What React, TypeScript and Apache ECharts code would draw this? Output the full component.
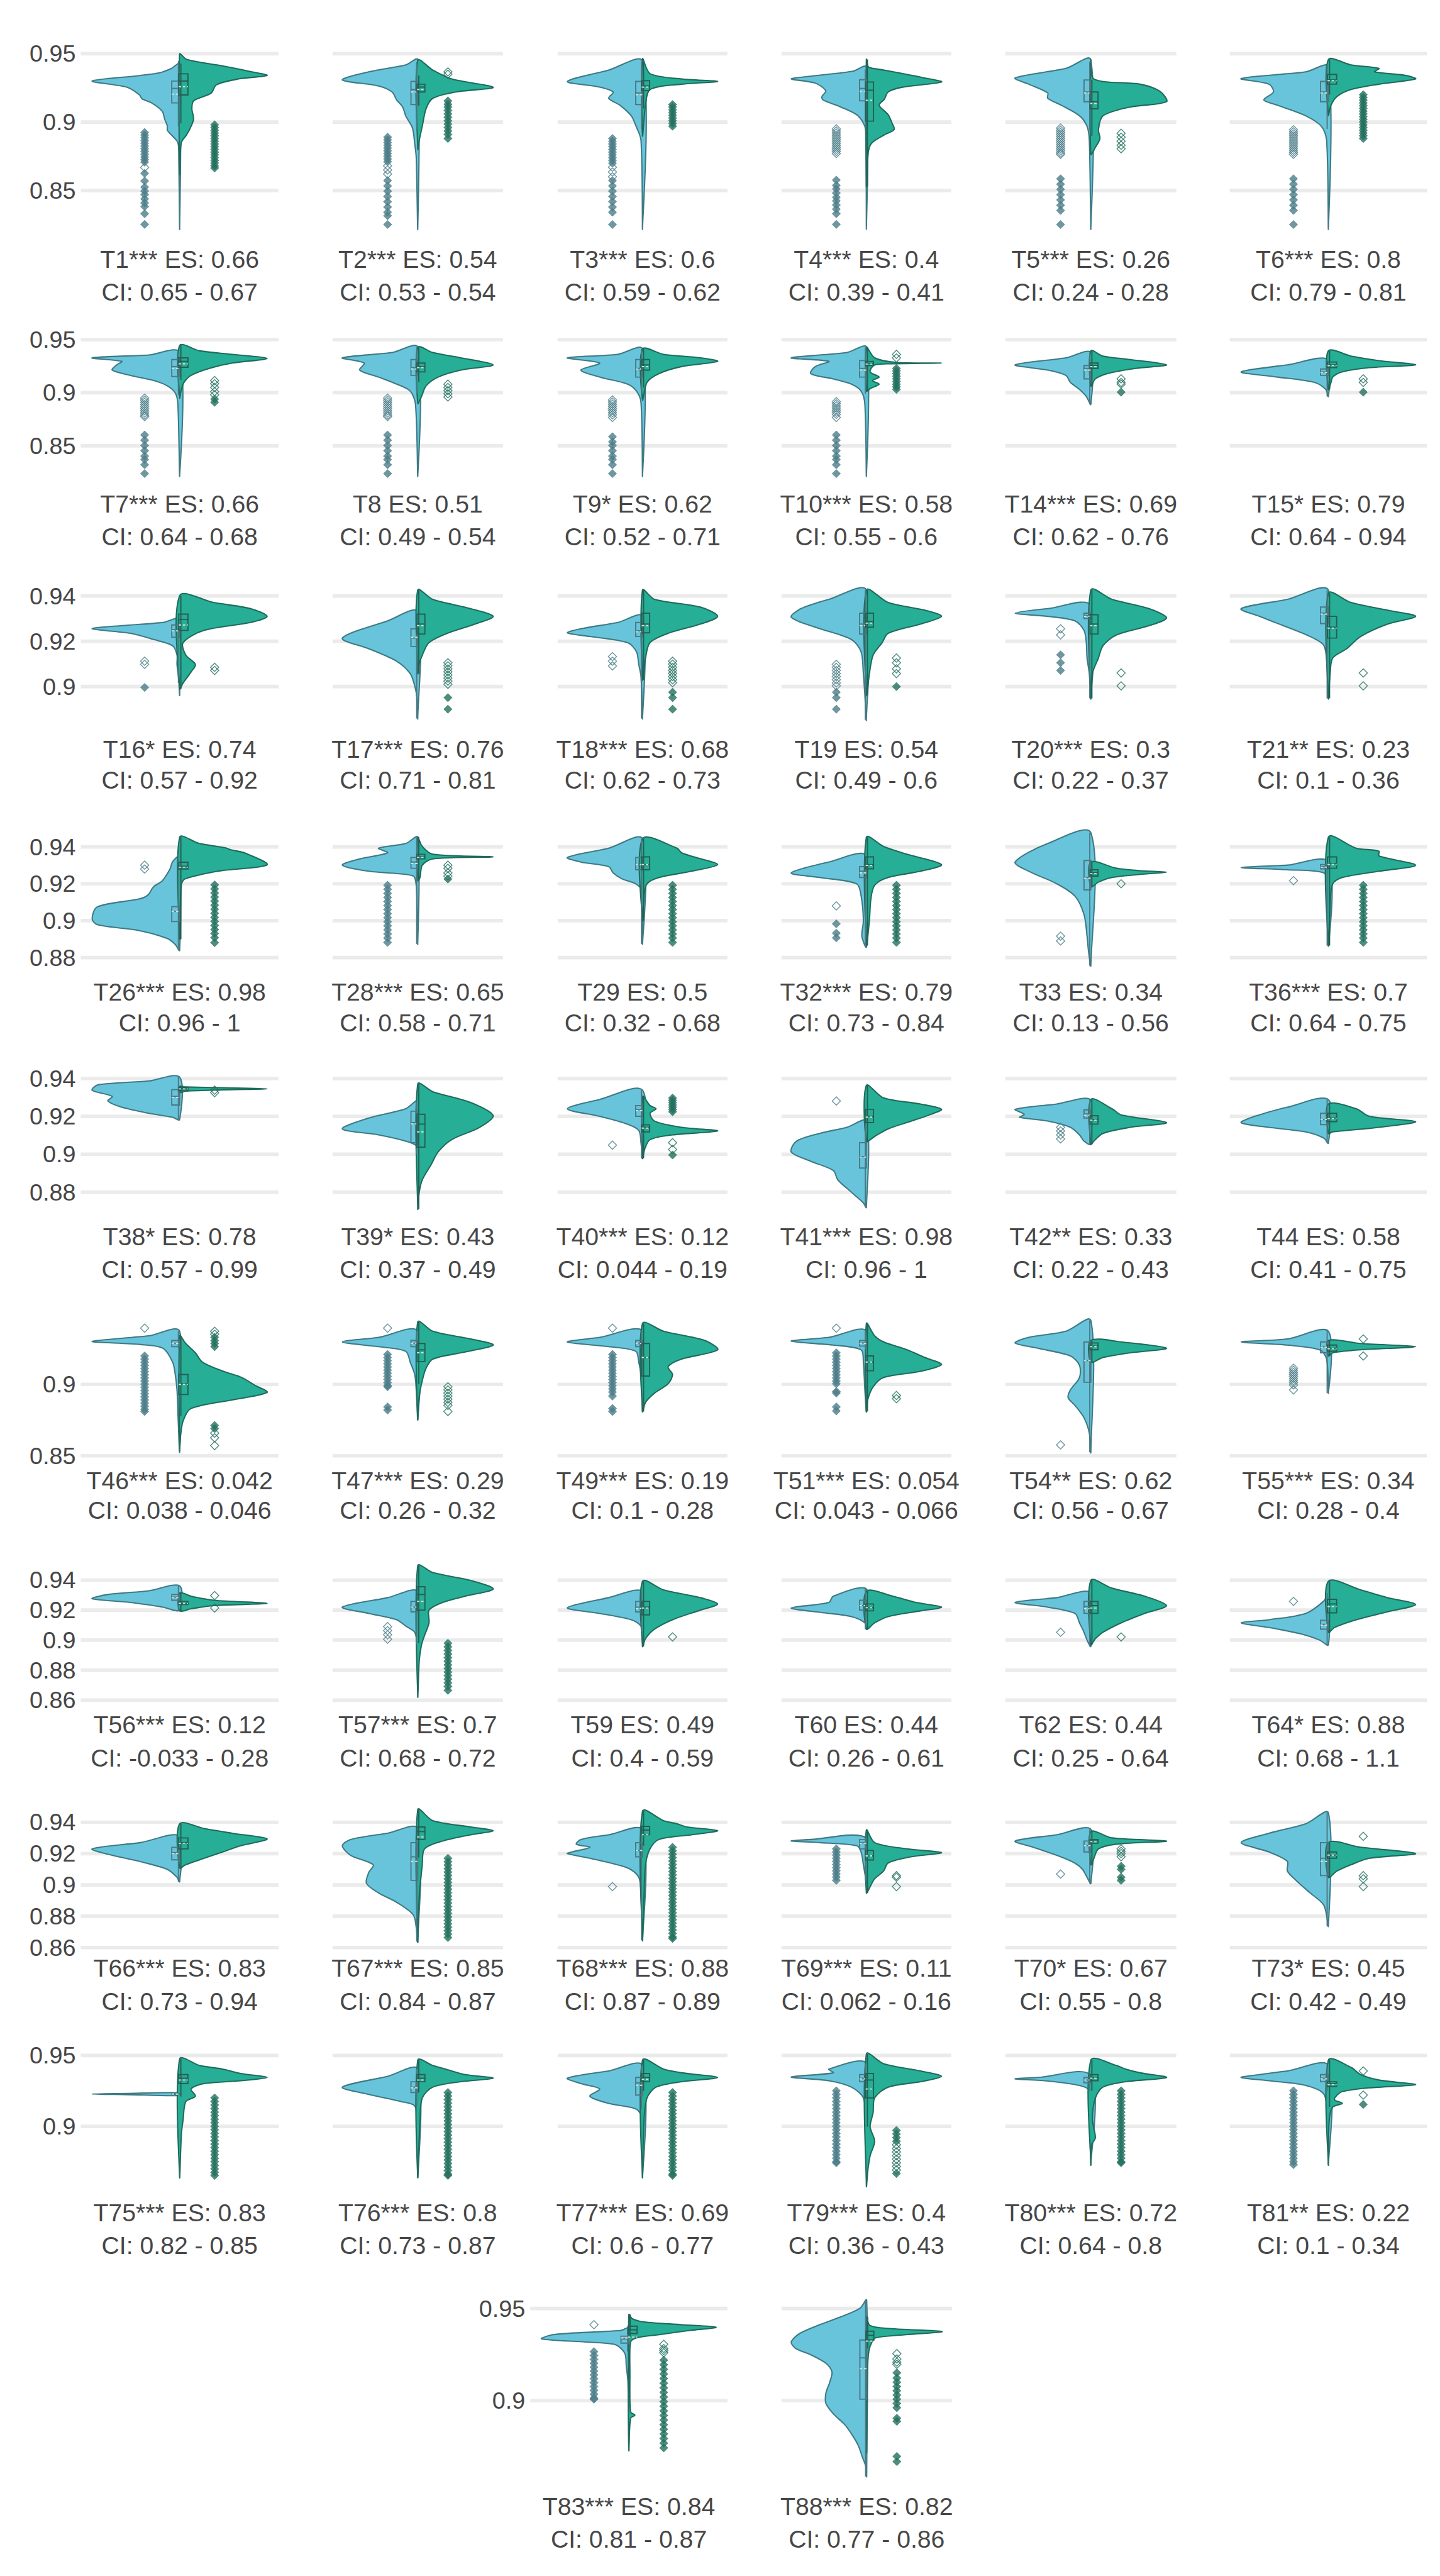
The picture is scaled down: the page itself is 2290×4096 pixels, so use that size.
import React, { useEffect, useRef } from "react";
import * as echarts from "echarts";

// ===================== DATA =====================
// Violin profiles: [value, relative half-width (1 = widest)], listed top to bottom.
// box: [[lo, q1, median, q3, hi, mean] left, [...] right]
// fL/hL: filled / hollow outliers of left group; fR/hR: right group.

const T1 = {
  L: [[0.9425,0],[0.939,0.1],[0.936,0.23],[0.934,0.46],[0.930,1],[0.9255,0.6],[0.920,0.46],[0.917,0.43],[0.914,0.32],[0.908,0.2],[0.902,0.17],[0.897,0.14],[0.894,0.14],[0.889,0.07],[0.885,0.02],[0.876,0.01],[0.822,0]],
  R: [[0.9497,0],[0.9458,0.08],[0.9415,0.45],[0.9372,0.79],[0.9341,1],[0.9315,0.67],[0.9272,0.42],[0.9211,0.36],[0.9155,0.16],[0.9098,0.14],[0.9024,0.16],[0.8968,0.13],[0.8907,0.08],[0.8851,0.02],[0.87,0.005],[0.862,0]],
  box: [[0.897,0.914,0.9246,0.930,0.9445,0.9204],[0.899,0.9198,0.930,0.9353,0.9428,0.9259]],
  fL: [0.8924,0.8905,0.8885,0.8865,0.8845,0.8825,0.8805,0.8785,0.8765,0.8745,0.8725,0.8707,0.8625,0.8569,0.8525,0.8495,0.8469,0.8438,0.8408,0.8382,0.833,0.8252],
  hL: [0.8668],
  fR: [0.898,0.896,0.894,0.892,0.890,0.888,0.886,0.884,0.882,0.880,0.878,0.876,0.874,0.872,0.870,0.868,0.8664],
  hR: [],
};
const T2 = {
  L: [[0.9456,0],[0.9418,0.16],[0.9367,0.65],[0.9308,1],[0.9264,0.52],[0.922,0.34],[0.9162,0.28],[0.911,0.2],[0.9046,0.16],[0.8956,0.07],[0.884,0.04],[0.874,0.02],[0.822,0]],
  R: [[0.9451,0],[0.938,0.2],[0.9315,0.45],[0.9254,1],[0.922,0.5],[0.9174,0.2],[0.9097,0.11],[0.897,0.06],[0.8867,0.02],[0.880,0]],
  box: [[0.895,0.9128,0.9238,0.9297,0.944,0.922],[0.912,0.922,0.9256,0.9277,0.934,0.9238]],
  fL: [0.889,0.887,0.885,0.883,0.881,0.879,0.877,0.875,0.873,0.871,0.8572,0.8533,0.8495,0.8456,0.8418,0.8379,0.8341,0.8315,0.8251],
  hL: [0.868,0.865,0.862],
  fR: [0.9155,0.913,0.911,0.9085,0.906,0.9035,0.901,0.8985,0.896,0.8935,0.891,0.888],
  hR: [0.9367,0.935],
};
const T3 = {
  L: [[0.9444,0],[0.938,0.45],[0.9297,1],[0.9256,0.57],[0.922,0.39],[0.9174,0.45],[0.9123,0.3],[0.9046,0.15],[0.8969,0.085],[0.8867,0.02],[0.822,0]],
  R: [[0.9462,0],[0.9354,0.1],[0.9315,0.52],[0.9297,1],[0.9277,0.52],[0.9238,0.1],[0.9123,0.04],[0.89,0]],
  box: [[0.895,0.9128,0.9213,0.9297,0.944,0.92],[0.91,0.9231,0.9264,0.9303,0.944,0.9256]],
  fL: [0.888,0.886,0.884,0.882,0.880,0.878,0.876,0.874,0.872,0.870,0.8572,0.8533,0.8495,0.8456,0.8418,0.8379,0.8341,0.8251],
  hL: [0.867,0.8635,0.860],
  fR: [0.9128,0.911,0.909,0.907,0.905,0.903,0.901,0.899,0.897],
  hR: [],
};
const T4 = {
  L: [[0.9402,0],[0.9372,0.18],[0.9337,0.71],[0.9315,1],[0.9285,0.68],[0.9228,0.54],[0.9189,0.59],[0.9163,0.58],[0.911,0.34],[0.9054,0.13],[0.8994,0.04],[0.8937,0.01],[0.822,0]],
  R: [[0.9458,0],[0.9402,0.03],[0.9385,0.18],[0.9358,0.45],[0.9319,0.81],[0.9293,1],[0.9254,0.47],[0.922,0.29],[0.9168,0.24],[0.9124,0.17],[0.9054,0.29],[0.8994,0.34],[0.8946,0.37],[0.8907,0.24],[0.8851,0.08],[0.8795,0.03],[0.8648,0.01],[0.853,0]],
  box: [[0.8995,0.9155,0.9246,0.931,0.9385,0.9224],[0.853,0.9007,0.9233,0.9293,0.9458,0.9159]],
  fL: [0.8576,0.8537,0.8511,0.8481,0.845,0.8424,0.8394,0.8364,0.833,0.8252],
  hL: [0.895,0.8935,0.892,0.8905,0.889,0.8875,0.886,0.8845,0.883,0.8815,0.88,0.8785,0.877],
  fR: [],
  hR: [],
};
const T5 = {
  L: [[0.9456,0],[0.9392,0.33],[0.9323,1],[0.9277,0.82],[0.9213,0.57],[0.9174,0.57],[0.9123,0.39],[0.9046,0.15],[0.8969,0.05],[0.8867,0.02],[0.822,0]],
  R: [[0.9451,0],[0.9315,0.04],[0.9277,0.65],[0.9226,0.91],[0.9149,1],[0.911,0.52],[0.9046,0.16],[0.8944,0.1],[0.888,0.12],[0.8815,0.06],[0.8764,0]],
  box: [[0.895,0.9149,0.922,0.9308,0.944,0.9213],[0.89,0.9097,0.9149,0.922,0.931,0.9136]],
  fL: [0.8585,0.8546,0.8508,0.8469,0.8431,0.8392,0.8354,0.8251],
  hL: [0.8956,0.894,0.8925,0.891,0.8895,0.888,0.8865,0.885,0.8835,0.882,0.8805,0.879,0.8775,0.8764],
  fR: [],
  hR: [0.8918,0.889,0.886,0.883,0.8805],
};
const T6 = {
  L: [[0.9405,0],[0.9367,0.26],[0.9318,1],[0.9277,0.68],[0.922,0.63],[0.9162,0.74],[0.9123,0.58],[0.9046,0.26],[0.8969,0.08],[0.8867,0.02],[0.822,0]],
  R: [[0.9456,0],[0.9418,0.26],[0.9392,0.58],[0.9367,0.53],[0.9341,0.89],[0.9315,1],[0.9277,0.58],[0.9238,0.26],[0.9187,0.1],[0.9123,0.03],[0.905,0]],
  box: [[0.895,0.9149,0.922,0.9297,0.9405,0.9213],[0.92,0.9277,0.9308,0.9349,0.9456,0.9303]],
  fL: [0.8585,0.8546,0.8508,0.8469,0.8431,0.8392,0.8354,0.8251],
  hL: [0.8944,0.8929,0.8914,0.8899,0.8884,0.8869,0.8854,0.8839,0.8824,0.8809,0.8794,0.8779,0.8764],
  fR: [0.920,0.918,0.916,0.914,0.912,0.910,0.908,0.906,0.904,0.902,0.900,0.898,0.896,0.894,0.892,0.890,0.888],
  hR: [],
};
const T7 = {
  L: [[0.9378,0],[0.9355,0.35],[0.9328,1],[0.9295,0.66],[0.9262,0.72],[0.9213,0.77],[0.9163,0.56],[0.9114,0.29],[0.9064,0.14],[0.8998,0.05],[0.8891,0.02],[0.8216,0]],
  R: [[0.9444,0],[0.9394,0.23],[0.9361,0.6],[0.9322,1],[0.9279,0.6],[0.9229,0.34],[0.9163,0.13],[0.9097,0.05],[0.9031,0.02],[0.895,0]],
  box: [[0.898,0.9153,0.9246,0.9312,0.9378,0.9229],[0.912,0.9239,0.9295,0.9328,0.9444,0.9272]],
  fL: [0.8602,0.8553,0.8503,0.8454,0.8404,0.8371,0.8322,0.8239],
  hL: [0.8949,0.893,0.891,0.889,0.887,0.885,0.883,0.881,0.879,0.8775],
  fR: [0.894,0.891],
  hR: [0.9114,0.9085,0.905,0.901,0.898],
};
const T8 = {
  L: [[0.9427,0],[0.9378,0.34],[0.9328,1],[0.9279,0.71],[0.9213,0.77],[0.9147,0.52],[0.9081,0.28],[0.9015,0.1],[0.8891,0.03],[0.8216,0]],
  R: [[0.9427,0],[0.9378,0.2],[0.9328,0.57],[0.9262,1],[0.9213,0.57],[0.9147,0.27],[0.9064,0.11],[0.8965,0.05],[0.89,0]],
  box: [[0.899,0.9163,0.9236,0.9312,0.9427,0.9223],[0.91,0.9196,0.9246,0.9279,0.9427,0.9236]],
  fL: [0.8602,0.8553,0.8503,0.8454,0.8404,0.8371,0.8322,0.8239],
  hL: [0.8949,0.893,0.891,0.889,0.887,0.885,0.883,0.881,0.879,0.8775],
  fR: [],
  hR: [0.908,0.905,0.902,0.899,0.896],
};
const T9 = {
  L: [[0.9411,0],[0.9361,0.33],[0.9328,1],[0.9279,0.57],[0.9213,0.82],[0.9147,0.57],[0.9081,0.2],[0.9015,0.08],[0.8907,0.02],[0.8216,0]],
  R: [[0.9411,0],[0.9361,0.28],[0.9328,0.77],[0.9295,1],[0.9246,0.52],[0.918,0.22],[0.9097,0.06],[0.8932,0]],
  box: [[0.899,0.9147,0.9229,0.9312,0.9411,0.9223],[0.905,0.9213,0.9262,0.9312,0.9411,0.9246]],
  fL: [0.8586,0.8537,0.8503,0.8454,0.8404,0.8371,0.8322,0.8239],
  hL: [0.8932,0.8912,0.8892,0.8872,0.8852,0.8832,0.8812,0.8792,0.8767],
  fR: [],
  hR: [],
};
const T10 = {
  L: [[0.9427,0],[0.9378,0.26],[0.9328,1],[0.9295,0.5],[0.9246,0.68],[0.918,0.74],[0.913,0.44],[0.9081,0.2],[0.9015,0.07],[0.8891,0.02],[0.8216,0]],
  R: [[0.9427,0],[0.9328,0.11],[0.9285,0.4],[0.9279,1],[0.9272,0.4],[0.9262,0.11],[0.9196,0.05],[0.9147,0.17],[0.9114,0.08],[0.9081,0.17],[0.9038,0.05],[0.9015,0]],
  box: [[0.899,0.9147,0.9229,0.9302,0.9427,0.9213],[0.9015,0.9256,0.9276,0.9295,0.9427,0.927]],
  fL: [0.8602,0.8553,0.8503,0.8454,0.8404,0.8371,0.8322,0.8239],
  hL: [0.8916,0.8896,0.8876,0.8856,0.8836,0.8816,0.8796,0.8767],
  fR: [0.9229,0.9205,0.918,0.9155,0.913,0.9105,0.908,0.9055,0.9031],
  hR: [0.9361,0.9328],
};
const T14 = {
  L: [[0.9378,0],[0.9328,0.33],[0.9262,1],[0.9213,0.57],[0.9163,0.33],[0.9097,0.27],[0.9031,0.15],[0.8965,0.06],[0.8891,0]],
  R: [[0.9394,0],[0.9345,0.16],[0.9312,0.52],[0.9262,1],[0.9229,0.59],[0.918,0.22],[0.913,0.06],[0.9064,0]],
  box: [[0.8891,0.913,0.9229,0.9256,0.9378,0.9213],[0.9064,0.9229,0.9256,0.9279,0.9394,0.9246]],
  fL: [], hL: [],
  fR: [0.9005],
  hR: [0.913,0.9097,0.9081],
};
const T15 = {
  L: [[0.9312,0],[0.9262,0.47],[0.9196,1],[0.9147,0.58],[0.9097,0.16],[0.9031,0.03],[0.8965,0]],
  R: [[0.9394,0],[0.9345,0.26],[0.9302,0.58],[0.9262,1],[0.9236,0.47],[0.9196,0.16],[0.9147,0.05],[0.9097,0.03],[0.9031,0]],
  box: [[0.8965,0.9163,0.9196,0.9223,0.9312,0.919],[0.9031,0.9236,0.9262,0.9289,0.9394,0.9256]],
  fL: [], hL: [],
  fR: [0.9005],
  hR: [0.913,0.9097],
};
const T16 = {
  L: [[0.9296,0],[0.9283,0.19],[0.9269,0.66],[0.9255,1],[0.9235,0.56],[0.9207,0.29],[0.918,0.08],[0.9139,0.03],[0.9098,0.03],[0.903,0.01],[0.8962,0]],
  R: [[0.9401,0],[0.9371,0.39],[0.9344,0.81],[0.931,1],[0.9283,0.81],[0.9248,0.28],[0.9194,0.04],[0.9139,0.07],[0.9098,0.18],[0.9064,0.13],[0.9016,0.04],[0.8989,0]],
  box: [[0.9016,0.9218,0.9251,0.9272,0.9296,0.9246],[0.8989,0.9248,0.9296,0.932,0.9401,0.9272]],
  fL: [0.8996], hL: [0.9112,0.9098],
  fR: [], hR: [0.9085,0.9071],
};
const T17 = {
  L: [[0.933,0],[0.929,0.4],[0.9214,1],[0.9167,0.65],[0.9112,0.28],[0.9057,0.1],[0.9003,0.04],[0.8948,0.01],[0.8859,0]],
  R: [[0.9426,0],[0.9385,0.2],[0.9344,0.7],[0.931,1],[0.9276,0.76],[0.9235,0.39],[0.9194,0.15],[0.9139,0.06],[0.9098,0.02],[0.9057,0]],
  box: [[0.8859,0.9177,0.9214,0.9255,0.933,0.9217],[0.9057,0.9232,0.9276,0.932,0.9426,0.9269]],
  fL: [], hL: [],
  fR: [0.8951,0.89], hR: [0.9105,0.9092,0.9078,0.9065,0.9051,0.9037,0.9024,0.901],
};
const T18 = {
  L: [[0.931,0],[0.9283,0.33],[0.9255,0.82],[0.9237,1],[0.9221,0.7],[0.9194,0.2],[0.9153,0.08],[0.9098,0.05],[0.9044,0.02],[0.8859,0]],
  R: [[0.9426,0],[0.9385,0.16],[0.9351,0.77],[0.931,1],[0.9276,0.77],[0.9235,0.34],[0.9194,0.1],[0.9126,0.04],[0.903,0]],
  box: [[0.8859,0.9221,0.9246,0.9283,0.931,0.9242],[0.903,0.9237,0.9276,0.9324,0.9426,0.9269]],
  fL: [], hL: [0.9132,0.9112,0.9091],
  fR: [0.8975,0.8951,0.89], hR: [0.9112,0.9099,0.9085,0.9071,0.9058,0.9044,0.903,0.9017],
};
const T19 = {
  L: [[0.9426,0],[0.9385,0.5],[0.9344,0.87],[0.9306,1],[0.9262,0.68],[0.9208,0.2],[0.9153,0.07],[0.9057,0.04],[0.8962,0.02],[0.8853,0]],
  R: [[0.9426,0],[0.9371,0.29],[0.9337,0.78],[0.931,1],[0.9276,0.72],[0.9235,0.29],[0.9194,0.21],[0.9139,0.09],[0.9057,0.04],[0.8962,0]],
  box: [[0.8853,0.9232,0.9276,0.9324,0.9426,0.9269],[0.8962,0.9262,0.9287,0.9324,0.9426,0.928]],
  fL: [0.8975,0.8951,0.89], hL: [0.9098,0.9085,0.9071,0.9057,0.9044,0.903,0.9016,0.9003],
  fR: [0.90], hR: [0.9126,0.9105,0.9078,0.9057],
};
const T20 = {
  L: [[0.9358,0],[0.9344,0.57],[0.9324,1],[0.931,0.57],[0.929,0.21],[0.9248,0.09],[0.9194,0.06],[0.9126,0.05],[0.9057,0.02],[0.8948,0]],
  R: [[0.9426,0],[0.9385,0.28],[0.9344,0.77],[0.9303,1],[0.9269,0.77],[0.9228,0.34],[0.918,0.16],[0.9126,0.1],[0.9057,0.02],[0.8948,0]],
  box: [[0.8948,0.93,0.9314,0.9324,0.9358,0.931],[0.8948,0.9232,0.9276,0.9317,0.9426,0.9269]],
  fL: [0.914,0.9105,0.9071], hL: [0.9255,0.9228],
  fR: [], hR: [0.906,0.9003],
};
const T21 = {
  L: [[0.9426,0],[0.9385,0.47],[0.9344,1],[0.931,0.79],[0.9262,0.47],[0.9221,0.21],[0.918,0.05],[0.9057,0.01],[0.8948,0]],
  R: [[0.9412,0],[0.9371,0.26],[0.9337,0.68],[0.931,1],[0.9276,0.68],[0.9221,0.37],[0.9167,0.21],[0.9126,0.05],[0.9057,0.02],[0.8948,0]],
  box: [[0.8948,0.9278,0.9324,0.9351,0.9426,0.932],[0.8948,0.9214,0.9262,0.931,0.9412,0.9258]],
  fL: [], hL: [],
  fR: [], hR: [0.906,0.9003],
};
const T26 = {
  L: [[0.9349,0],[0.932,0.08],[0.928,0.11],[0.9215,0.2],[0.9183,0.3],[0.914,0.36],[0.9118,0.46],[0.9075,0.94],[0.9011,1],[0.8978,0.94],[0.8946,0.46],[0.8903,0.14],[0.8871,0.05],[0.8839,0]],
  R: [[0.9452,0],[0.9419,0.22],[0.9395,0.52],[0.9385,0.58],[0.9366,0.75],[0.9303,1],[0.9269,0.45],[0.9226,0.06],[0.9194,0.02],[0.90,0.005],[0.89,0]],
  box: [[0.8839,0.8995,0.905,0.9076,0.9349,0.905],[0.89,0.928,0.9295,0.9317,0.9452,0.929]],
  fL: [], hL: [0.9301,0.928],
  fR: [0.9194,0.9172,0.915,0.9128,0.9106,0.9084,0.9062,0.904,0.9018,0.8996,0.8974,0.8952,0.893,0.8908,0.8881], hR: [],
};
const T28 = {
  L: [[0.9452,0],[0.9418,0.16],[0.9393,0.52],[0.9368,0.4],[0.9335,0.77],[0.9301,1],[0.9268,0.65],[0.9251,0.16],[0.9234,0.04],[0.9083,0.01],[0.8874,0]],
  R: [[0.9452,0],[0.9402,0.06],[0.936,0.2],[0.9346,1],[0.9335,0.2],[0.9301,0.06],[0.9234,0.03],[0.9217,0]],
  box: [[0.8874,0.9284,0.9318,0.9343,0.9452,0.931],[0.9217,0.9335,0.9346,0.936,0.9452,0.9343]],
  fL: [0.9192,0.917,0.9148,0.9126,0.9104,0.9082,0.906,0.9038,0.9016,0.8994,0.8972,0.895,0.8928,0.8906,0.8882], hL: [],
  fR: [0.9226], hR: [0.9301,0.9284,0.9259,0.9242],
};
const T29 = {
  L: [[0.9444,0],[0.9393,0.45],[0.9343,1],[0.9318,0.82],[0.9293,0.45],[0.9259,0.39],[0.9226,0.27],[0.92,0.09],[0.9167,0.02],[0.8874,0]],
  R: [[0.9444,0],[0.9393,0.46],[0.9368,0.52],[0.9343,0.71],[0.9304,1],[0.9268,0.65],[0.9234,0.22],[0.92,0.06],[0.9134,0.02],[0.90,0]],
  box: [[0.8874,0.9276,0.9304,0.9343,0.9444,0.9304],[0.90,0.9276,0.9304,0.9346,0.9444,0.9304]],
  fL: [], hL: [],
  fR: [0.9192,0.917,0.9148,0.9126,0.9104,0.9082,0.906,0.9038,0.9016,0.8994,0.8972,0.895,0.8928,0.8906,0.8882], hR: [],
};
const T32 = {
  L: [[0.9351,0],[0.9318,0.5],[0.9259,1],[0.9234,0.62],[0.92,0.13],[0.9134,0.07],[0.90,0.04],[0.8916,0.06],[0.8857,0]],
  R: [[0.9452,0],[0.9402,0.23],[0.936,0.54],[0.9304,1],[0.9268,0.72],[0.9234,0.29],[0.9192,0.11],[0.9117,0.06],[0.90,0.04],[0.8865,0]],
  box: [[0.8857,0.9234,0.9268,0.9293,0.9351,0.9259],[0.8865,0.9281,0.9304,0.9346,0.9452,0.93]],
  fL: [0.8983,0.8932,0.8907], hL: [0.908],
  fR: [0.9192,0.917,0.9148,0.9126,0.9104,0.9082,0.906,0.9038,0.9016,0.8994,0.8972,0.895,0.8928,0.8906,0.8882], hR: [],
};
const T33 = {
  L: [[0.9477,0],[0.9418,0.57],[0.9318,1],[0.9268,0.82],[0.92,0.45],[0.9133,0.21],[0.9033,0.09],[0.8916,0.05],[0.8832,0.03],[0.8756,0]],
  R: [[0.9318,0],[0.9284,0.34],[0.9271,0.65],[0.9263,1],[0.9251,0.65],[0.9234,0.28],[0.9209,0.1],[0.9184,0]],
  box: [[0.8756,0.9167,0.9234,0.9326,0.9477,0.923],[0.9184,0.9242,0.9259,0.9276,0.9318,0.9255]],
  fL: [], hL: [0.8916,0.889],
  fR: [], hR: [0.92],
};
const T36 = {
  L: [[0.9318,0],[0.9301,0.47],[0.9288,1],[0.9276,0.47],[0.9259,0.05],[0.92,0.02],[0.8865,0]],
  R: [[0.9452,0],[0.9393,0.32],[0.9377,0.58],[0.9351,0.58],[0.9301,1],[0.9268,0.58],[0.9234,0.16],[0.92,0.05],[0.9083,0.02],[0.8865,0]],
  box: [[0.8865,0.9281,0.9293,0.9304,0.9318,0.929],[0.8865,0.9284,0.9309,0.9346,0.9452,0.9305]],
  fL: [], hL: [0.9217],
  fR: [0.9192,0.917,0.9148,0.9126,0.9104,0.9082,0.906,0.9038,0.9016,0.8994,0.8972,0.895,0.8928,0.8906,0.8882], hR: [],
};
const T38 = {
  L: [[0.9407,0],[0.9387,0.35],[0.9367,0.93],[0.9338,1],[0.9305,0.77],[0.9281,0.82],[0.9248,0.66],[0.9216,0.35],[0.9195,0.08],[0.9183,0]],
  R: [[0.9358,0],[0.9355,0.07],[0.9351,0.5],[0.9345,1],[0.934,0.5],[0.9333,0.07],[0.9325,0]],
  box: [[0.9183,0.926,0.9305,0.9341,0.9407,0.93],[0.9325,0.9335,0.9345,0.9351,0.9358,0.9345]],
  fL: [], hL: [],
  fR: [], hR: [0.9338,0.9325],
};
const T39 = {
  L: [[0.9281,0],[0.924,0.16],[0.9191,0.65],[0.9134,1],[0.9102,0.52],[0.9069,0.16],[0.9045,0.02],[0.90,0]],
  R: [[0.9371,0],[0.933,0.2],[0.9273,0.7],[0.9204,1],[0.9142,0.82],[0.9077,0.45],[0.9012,0.27],[0.8947,0.18],[0.8865,0.06],[0.88,0.02],[0.8711,0]],
  box: [[0.90,0.9061,0.9167,0.9227,0.9281,0.916],[0.8711,0.9037,0.9159,0.9211,0.9371,0.9118]],
  fL: [], hL: [], fR: [], hR: [],
};
const T40 = {
  L: [[0.9338,0],[0.9289,0.57],[0.924,1],[0.92,0.57],[0.9159,0.2],[0.9126,0.05],[0.906,0.02],[0.8979,0]],
  R: [[0.9305,0],[0.9257,0.1],[0.924,0.18],[0.9216,0.1],[0.9175,0.16],[0.9142,0.52],[0.9123,1],[0.9102,0.4],[0.9077,0.1],[0.9028,0.03],[0.8979,0]],
  box: [[0.8979,0.92,0.9235,0.9257,0.9338,0.923],[0.8979,0.9118,0.9142,0.9155,0.9305,0.9138]],
  fL: [], hL: [0.9048],
  fR: [0.9297,0.9285,0.9272,0.926,0.9248,0.9236,0.9224,0.8996], hR: [0.9061,0.9025],
};
const T41 = {
  L: [[0.9175,0],[0.9142,0.26],[0.911,0.62],[0.9069,0.93],[0.9012,1],[0.8963,0.74],[0.8914,0.44],[0.8865,0.38],[0.88,0.2],[0.8743,0.04],[0.8719,0]],
  R: [[0.9363,0],[0.9297,0.23],[0.9265,0.72],[0.9237,1],[0.9208,0.84],[0.9175,0.6],[0.9134,0.29],[0.9094,0.11],[0.9069,0]],
  box: [[0.8719,0.8927,0.8988,0.9061,0.9175,0.8985],[0.9069,0.9167,0.92,0.9237,0.9363,0.9196]],
  fL: [], hL: [0.9281], fR: [], hR: [],
};
const T42 = {
  L: [[0.9286,0],[0.9265,0.45],[0.9237,1],[0.9211,0.88],[0.9195,0.94],[0.9175,0.57],[0.9142,0.27],[0.9102,0.15],[0.9069,0.09],[0.9053,0]],
  R: [[0.9289,0],[0.924,0.28],[0.9208,0.4],[0.9167,1],[0.9142,0.52],[0.911,0.16],[0.9069,0.04],[0.9053,0]],
  box: [[0.9053,0.9191,0.9213,0.9234,0.9286,0.9205],[0.9053,0.9159,0.9183,0.9204,0.9289,0.918]],
  fL: [], hL: [0.9142,0.9123,0.9102,0.9081], fR: [], hR: [],
};
const T44 = {
  L: [[0.9289,0],[0.9248,0.47],[0.9208,0.79],[0.9167,1],[0.9142,0.68],[0.9118,0.26],[0.9085,0.05],[0.9058,0]],
  R: [[0.9265,0],[0.924,0.32],[0.92,0.47],[0.9172,1],[0.9142,0.58],[0.9118,0.05],[0.911,0]],
  box: [[0.9058,0.9156,0.9183,0.9216,0.9289,0.9183],[0.911,0.9172,0.9191,0.9216,0.9265,0.9188]],
  fL: [], hL: [], fR: [], hR: [],
};
const T46 = {
  L: [[0.9372,0],[0.934,0.35],[0.9301,1],[0.9279,0.45],[0.9253,0.19],[0.9156,0.08],[0.9069,0.05],[0.8961,0.03],[0.881,0.02],[0.8528,0]],
  R: [[0.934,0],[0.9286,0.07],[0.9221,0.18],[0.9156,0.26],[0.9091,0.5],[0.9048,0.71],[0.8994,0.86],[0.8944,1],[0.8896,0.65],[0.8831,0.13],[0.8745,0.04],[0.8636,0.01],[0.8539,0]],
  box: [[0.9253,0.9264,0.9286,0.9307,0.9372,0.9286],[0.8776,0.8929,0.9004,0.9069,0.934,0.9]],
  fL: [0.9199,0.9177,0.9155,0.9133,0.9111,0.9089,0.9067,0.9045,0.9023,0.9001,0.8979,0.8957,0.8935,0.8913,0.8891,0.8869,0.8847,0.8825,0.881],
  hL: [0.9394],
  fR: [0.933,0.9307,0.9286,0.9264,0.8712,0.869],
  hR: [0.9372,0.9351,0.8658,0.8626,0.8571],
};
const T47 = {
  L: [[0.9372,0],[0.9329,0.52],[0.9297,1],[0.9264,0.52],[0.9232,0.16],[0.9156,0.1],[0.9069,0.04],[0.8961,0.02],[0.8755,0]],
  R: [[0.9437,0],[0.9372,0.2],[0.9318,0.7],[0.9275,1],[0.9221,0.57],[0.9177,0.2],[0.9113,0.11],[0.9026,0.06],[0.8918,0.02],[0.8755,0]],
  box: [[0.9232,0.9264,0.9286,0.9307,0.9372,0.9286],[0.9,0.916,0.9242,0.9286,0.9437,0.9221]],
  fL: [0.921,0.9188,0.9166,0.9144,0.9122,0.91,0.9078,0.9056,0.9034,0.9012,0.8992,0.8983,0.8842,0.882],
  hL: [0.9394],
  fR: [],
  hR: [0.8983,0.8961,0.8939,0.8918,0.8896,0.8874,0.8853,0.881],
};
const T49 = {
  L: [[0.9372,0],[0.9329,0.57],[0.9297,1],[0.9264,0.45],[0.9232,0.09],[0.9156,0.05],[0.9069,0.02],[0.881,0]],
  R: [[0.9426,0],[0.9372,0.28],[0.9307,0.83],[0.9242,1],[0.9177,0.52],[0.9123,0.34],[0.9069,0.4],[0.9004,0.34],[0.8939,0.16],[0.8874,0.04],[0.881,0]],
  box: [[0.9232,0.9264,0.9286,0.9307,0.9372,0.9286],[0.881,0.9058,0.9188,0.9286,0.9426,0.9188]],
  fL: [0.921,0.9188,0.9166,0.9144,0.9122,0.91,0.9078,0.9056,0.9034,0.9012,0.899,0.8968,0.8946,0.8918,0.8831,0.881],
  hL: [0.9394],
  fR: [], hR: [],
};
const T51 = {
  L: [[0.9372,0],[0.9329,0.5],[0.9303,1],[0.9275,0.44],[0.9242,0.07],[0.9156,0.04],[0.8961,0.02],[0.881,0]],
  R: [[0.9426,0],[0.934,0.11],[0.9297,0.23],[0.9242,0.54],[0.9188,0.78],[0.9139,1],[0.9091,0.72],[0.9048,0.23],[0.8983,0.09],[0.8896,0.02],[0.881,0]],
  box: [[0.9242,0.9268,0.929,0.9307,0.9372,0.9286],[0.881,0.9095,0.9156,0.9199,0.9426,0.9156]],
  fL: [0.9221,0.9199,0.9177,0.9155,0.9133,0.9111,0.9089,0.9067,0.9045,0.9023,0.9004,0.895,0.8939,0.8842,0.8814],
  hL: [0.9394],
  fR: [], hR: [0.8922,0.89],
};
const T54 = {
  L: [[0.9448,0],[0.9372,0.33],[0.9329,0.82],[0.929,1],[0.9253,0.7],[0.9199,0.27],[0.9134,0.15],[0.9048,0.15],[0.8961,0.27],[0.8907,0.3],[0.8853,0.21],[0.8766,0.09],[0.8658,0.02],[0.8524,0]],
  R: [[0.9307,0],[0.9297,0.4],[0.9253,1],[0.9221,0.52],[0.9188,0.16],[0.9156,0]],
  box: [[0.8524,0.9015,0.9167,0.9297,0.9448,0.9167],[0.9156,0.9242,0.9268,0.929,0.9307,0.9264]],
  fL: [], hL: [0.8576], fR: [], hR: [],
};
const T55 = {
  L: [[0.9372,0],[0.9318,0.47],[0.9297,1],[0.9275,0.47],[0.9242,0.1],[0.9177,0.02],[0.8939,0]],
  R: [[0.9307,0],[0.9286,0.37],[0.9264,1],[0.9242,0.37],[0.9221,0.05],[0.9199,0]],
  box: [[0.8939,0.9221,0.9264,0.9297,0.9372,0.926],[0.9199,0.9232,0.9253,0.9275,0.9307,0.925]],
  fL: [], hL: [0.9113,0.9099,0.9084,0.907,0.9056,0.9041,0.9026,0.9012,0.8996,0.8961],
  fR: [], hR: [0.9318,0.9199],
};
const T56 = {
  L: [[0.9362,0],[0.9329,0.35],[0.9304,0.82],[0.9276,1],[0.9251,0.56],[0.922,0.19],[0.92,0]],
  R: [[0.9314,0],[0.9293,0.13],[0.9266,0.39],[0.9245,1],[0.923,0.39],[0.9209,0.13],[0.9195,0]],
  box: [[0.92,0.9266,0.9287,0.9304,0.9362,0.9283],[0.9195,0.9237,0.9245,0.9258,0.9314,0.9245]],
  fL: [], hL: [], fR: [], hR: [0.9297,0.9214],
};
const T57 = {
  L: [[0.9325,0],[0.9283,0.4],[0.922,1],[0.9178,0.65],[0.9136,0.28],[0.9094,0.16],[0.9052,0.04],[0.8969,0]],
  R: [[0.9496,0],[0.945,0.2],[0.9398,0.7],[0.9341,1],[0.9293,0.63],[0.9251,0.33],[0.92,0.15],[0.9115,0.15],[0.9031,0.09],[0.8969,0.05],[0.8864,0.02],[0.8623,0]],
  box: [[0.8969,0.9188,0.922,0.9258,0.9325,0.922],[0.8983,0.92,0.9304,0.9356,0.9496,0.9258]],
  fL: [], hL: [0.909,0.9063,0.9036,0.9006],
  fR: [0.8979,0.8955,0.8931,0.8907,0.8883,0.8859,0.8835,0.8811,0.8787,0.8763,0.8739,0.8715,0.8691,0.8665], hR: [],
};
const T59 = {
  L: [[0.9325,0],[0.9283,0.45],[0.9216,1],[0.9178,0.57],[0.9136,0.15],[0.9094,0.02],[0.9052,0]],
  R: [[0.9392,0],[0.9335,0.28],[0.9283,0.77],[0.9241,1],[0.92,0.77],[0.9136,0.4],[0.9073,0.16],[0.901,0.04],[0.8958,0]],
  box: [[0.9052,0.9188,0.922,0.9258,0.9325,0.921],[0.8958,0.9168,0.922,0.9258,0.9392,0.9214]],
  fL: [], hL: [], fR: [], hR: [0.9021],
};
const T60 = {
  L: [[0.9341,0],[0.9293,0.44],[0.9251,0.5],[0.9214,1],[0.9182,0.56],[0.9157,0.2],[0.9115,0.02],[0.9073,0]],
  R: [[0.9325,0],[0.9293,0.35],[0.9251,0.66],[0.922,1],[0.9195,0.72],[0.9157,0.29],[0.9115,0.11],[0.9073,0]],
  box: [[0.9073,0.92,0.923,0.9266,0.9341,0.923],[0.9073,0.9195,0.9216,0.9241,0.9325,0.9216]],
  fL: [], hL: [], fR: [], hR: [],
};
const T62 = {
  L: [[0.9314,0],[0.9283,0.45],[0.9251,1],[0.922,0.57],[0.9178,0.21],[0.9115,0.15],[0.9052,0.09],[0.90,0.05],[0.8958,0]],
  R: [[0.9398,0],[0.9346,0.28],[0.9293,0.71],[0.923,1],[0.9178,0.71],[0.9115,0.4],[0.9052,0.16],[0.901,0.06],[0.8969,0]],
  box: [[0.8958,0.9178,0.9224,0.9258,0.9314,0.921],[0.8969,0.9178,0.923,0.9258,0.9398,0.9214]],
  fL: [], hL: [0.9052], fR: [], hR: [0.9021],
};
const T64 = {
  L: [[0.9314,0],[0.9262,0.05],[0.9178,0.26],[0.9136,0.68],[0.9115,1],[0.9084,0.68],[0.9042,0.32],[0.90,0.1],[0.8969,0]],
  R: [[0.9392,0],[0.9335,0.37],[0.9283,0.68],[0.9237,1],[0.9189,0.68],[0.9136,0.32],[0.9084,0.07],[0.9052,0]],
  box: [[0.8969,0.9073,0.9105,0.9132,0.9314,0.91],[0.9052,0.9182,0.9241,0.9272,0.9392,0.9224]],
  fL: [], hL: [0.9258], fR: [], hR: [],
};
const T66 = {
  L: [[0.931,0],[0.927,0.45],[0.923,1],[0.9189,0.77],[0.9149,0.45],[0.9099,0.14],[0.9049,0.03],[0.902,0]],
  R: [[0.939,0],[0.936,0.28],[0.933,0.6],[0.9294,1],[0.925,0.7],[0.921,0.49],[0.917,0.28],[0.9129,0.07],[0.9109,0]],
  box: [[0.902,0.916,0.9206,0.924,0.931,0.92],[0.9109,0.923,0.927,0.93,0.939,0.9266]],
  fL: [], hL: [], fR: [], hR: [],
};
const T67 = {
  L: [[0.936,0],[0.933,0.4],[0.929,0.89],[0.925,1],[0.9189,0.89],[0.9129,0.59],[0.9079,0.65],[0.901,0.68],[0.8949,0.52],[0.8889,0.28],[0.8809,0.06],[0.8728,0.02],[0.8638,0]],
  R: [[0.948,0],[0.941,0.2],[0.937,0.7],[0.9346,1],[0.932,0.7],[0.928,0.33],[0.923,0.09],[0.9129,0.06],[0.8929,0.02],[0.8638,0]],
  box: [[0.8638,0.9029,0.9179,0.927,0.936,0.915],[0.9175,0.929,0.934,0.937,0.948,0.9306]],
  fL: [], hL: [],
  fR: [0.917,0.9148,0.9126,0.9104,0.9082,0.906,0.9038,0.9016,0.8994,0.8972,0.895,0.8928,0.8906,0.8884,0.8862,0.884,0.8818,0.8796,0.8774,0.8752,0.873,0.8708,0.8686,0.8664],
  hR: [],
};
const T68 = {
  L: [[0.935,0],[0.932,0.45],[0.929,0.82],[0.926,0.88],[0.924,0.7],[0.921,0.94],[0.92,1],[0.917,0.7],[0.9109,0.2],[0.9049,0.05],[0.8929,0.02],[0.8648,0]],
  R: [[0.947,0],[0.941,0.28],[0.939,0.46],[0.937,0.59],[0.9346,1],[0.932,0.65],[0.929,0.22],[0.923,0.1],[0.9129,0.04],[0.8929,0.02],[0.8648,0]],
  box: [[0.8648,0.9179,0.922,0.927,0.935,0.922],[0.925,0.932,0.935,0.9374,0.947,0.932]],
  fL: [], hL: [0.8989],
  fR: [0.924,0.9218,0.9196,0.9174,0.9152,0.913,0.9108,0.9086,0.9064,0.9042,0.902,0.8998,0.8976,0.8954,0.8932,0.891,0.8888,0.8866,0.8844,0.8822,0.88,0.8778,0.8756,0.8734,0.8712,0.869,0.8668,0.8658],
  hR: [],
};
const T69 = {
  L: [[0.93,0],[0.929,0.74],[0.928,1],[0.927,0.62],[0.925,0.13],[0.921,0.07],[0.9129,0.04],[0.9029,0]],
  R: [[0.935,0],[0.927,0.11],[0.923,0.54],[0.9206,1],[0.918,0.6],[0.914,0.29],[0.9089,0.23],[0.9039,0.11],[0.8989,0.05],[0.8949,0]],
  box: [[0.9029,0.923,0.927,0.929,0.93,0.9266],[0.8949,0.9159,0.9185,0.922,0.935,0.9185]],
  fL: [0.923,0.921,0.919,0.917,0.915,0.913,0.911,0.909,0.907,0.905,0.9029], hL: [],
  fR: [], hR: [0.9059,0.9049,0.8989],
};
const T70 = {
  L: [[0.9354,0],[0.932,0.45],[0.928,1],[0.924,0.76],[0.9189,0.45],[0.9139,0.21],[0.9099,0.11],[0.9049,0.05],[0.9009,0]],
  R: [[0.934,0],[0.93,0.28],[0.928,1],[0.926,0.34],[0.923,0.1],[0.9169,0.04],[0.9129,0]],
  box: [[0.9009,0.921,0.925,0.928,0.9354,0.925],[0.9129,0.9266,0.928,0.929,0.934,0.9276]],
  fL: [], hL: [0.9069],
  fR: [0.9119,0.9099,0.9049,0.9029], hR: [0.923,0.9214,0.92,0.918],
};
const T73 = {
  L: [[0.946,0],[0.939,0.26],[0.933,0.68],[0.927,1],[0.921,0.68],[0.915,0.47],[0.9089,0.47],[0.9029,0.37],[0.8949,0.21],[0.8869,0.05],[0.8738,0]],
  R: [[0.927,0],[0.924,0.37],[0.92,1],[0.917,0.47],[0.9129,0.26],[0.9089,0.1],[0.9049,0]],
  box: [[0.8738,0.9059,0.917,0.927,0.946,0.915],[0.9049,0.917,0.919,0.921,0.927,0.919]],
  fL: [], hL: [], fR: [], hR: [0.931,0.9059,0.9039,0.8989],
};
const T75 = {
  L: [[0.9238,0],[0.9232,0.6],[0.9228,1],[0.9224,0.6],[0.9218,0]],
  R: [[0.9475,0],[0.9429,0.23],[0.9404,0.49],[0.9373,0.7],[0.9345,1],[0.9322,0.7],[0.9302,0.28],[0.9264,0.13],[0.9213,0.18],[0.9175,0.07],[0.9048,0.04],[0.8947,0.02],[0.8642,0]],
  box: [[0.9218,0.9226,0.9228,0.923,0.9238,0.9228],[0.921,0.9302,0.934,0.9365,0.9475,0.9327]],
  fL: [], hL: [],
  fR: [0.9201,0.9176,0.9151,0.9126,0.9101,0.9076,0.9051,0.9026,0.9001,0.8976,0.8951,0.8926,0.8901,0.8876,0.8851,0.8826,0.8801,0.8776,0.8751,0.8726,0.8701,0.8676,0.8655],
  hR: [],
};
const T76 = {
  L: [[0.9404,0],[0.9353,0.4],[0.9277,1],[0.9226,0.65],[0.9175,0.22],[0.9145,0.04],[0.9048,0.01],[0.8642,0]],
  R: [[0.9467,0],[0.9429,0.2],[0.9391,0.45],[0.9365,0.63],[0.934,1],[0.9315,0.57],[0.9277,0.2],[0.9201,0.06],[0.9048,0.03],[0.8642,0]],
  box: [[0.9145,0.9239,0.9277,0.9315,0.9404,0.9272],[0.9239,0.9315,0.934,0.9365,0.9467,0.9327]],
  fL: [], hL: [],
  fR: [0.9239,0.9214,0.9189,0.9164,0.9139,0.9114,0.9089,0.9064,0.9039,0.9014,0.8989,0.8964,0.8939,0.8914,0.8889,0.8864,0.8839,0.8814,0.8789,0.8764,0.8739,0.8714,0.8689,0.8664,0.8655],
  hR: [],
};
const T77 = {
  L: [[0.9429,0],[0.9391,0.45],[0.934,1],[0.9302,0.82],[0.9264,0.57],[0.9213,0.7],[0.9162,0.45],[0.9124,0.09],[0.9074,0.02],[0.8642,0]],
  R: [[0.9467,0],[0.9404,0.28],[0.9378,0.52],[0.9345,1],[0.9315,0.52],[0.9277,0.18],[0.9201,0.06],[0.9048,0.02],[0.8642,0]],
  box: [[0.9124,0.9221,0.9307,0.9345,0.9429,0.929],[0.925,0.9315,0.9345,0.9373,0.9467,0.9332]],
  fL: [], hL: [],
  fR: [0.9239,0.9214,0.9189,0.9164,0.9139,0.9114,0.9089,0.9064,0.9039,0.9014,0.8989,0.8964,0.8939,0.8914,0.8889,0.8864,0.8839,0.8814,0.8789,0.8764,0.8739,0.8714,0.8689,0.8664,0.8655],
  hR: [],
};
const T79 = {
  L: [[0.9442,0],[0.9404,0.5],[0.9378,0.44],[0.9348,1],[0.9322,0.5],[0.9277,0.2],[0.9201,0.04],[0.9048,0.01],[0.8744,0]],
  R: [[0.951,0],[0.9442,0.23],[0.9391,0.72],[0.9353,1],[0.9315,0.72],[0.9277,0.29],[0.9201,0.11],[0.9099,0.09],[0.8997,0.05],[0.8896,0.11],[0.8794,0.05],[0.8693,0.02],[0.8579,0]],
  box: [[0.9251,0.9315,0.934,0.9365,0.9442,0.9335],[0.8997,0.9201,0.9327,0.9373,0.951,0.9264]],
  fL: [0.9251,0.9226,0.9201,0.9176,0.9151,0.9126,0.9101,0.9076,0.9051,0.9026,0.9001,0.8976,0.8951,0.8926,0.8901,0.8876,0.8851,0.8826,0.8801,0.8776,0.8751,0.8744],
  hL: [],
  fR: [0.8972,0.8947,0.8921,0.8896,0.8668],
  hR: [0.8871,0.8845,0.882,0.8794,0.8769,0.8744,0.8718,0.8693],
};
const T80 = {
  L: [[0.9358,0],[0.9345,0.7],[0.9335,1],[0.932,0.57],[0.9289,0.15],[0.9251,0.02],[0.8921,0.01],[0.8731,0]],
  R: [[0.9467,0],[0.9429,0.34],[0.9404,0.46],[0.9378,0.65],[0.9345,1],[0.9315,0.46],[0.9277,0.16],[0.9201,0.06],[0.9048,0.02],[0.8921,0.06],[0.8871,0.01],[0.8731,0]],
  box: [[0.925,0.9307,0.9327,0.9345,0.9358,0.9327],[0.925,0.9322,0.9345,0.9365,0.9467,0.934]],
  fL: [], hL: [],
  fR: [0.9251,0.9226,0.9201,0.9176,0.9151,0.9126,0.9101,0.9076,0.9051,0.9026,0.9001,0.8976,0.8951,0.8926,0.8901,0.8876,0.8851,0.8826,0.8801,0.8776,0.8751,0.8744],
  hR: [],
};
const T81 = {
  L: [[0.9429,0],[0.9391,0.47],[0.9365,0.79],[0.9345,1],[0.9322,0.68],[0.9289,0.26],[0.9226,0.05],[0.9048,0.01],[0.8731,0]],
  R: [[0.9467,0],[0.9416,0.26],[0.9365,0.37],[0.9327,0.58],[0.9294,1],[0.9272,0.47],[0.9246,0.16],[0.9221,0.1],[0.9188,0.07],[0.9162,0.16],[0.9137,0.05],[0.9048,0.01],[0.8731,0]],
  box: [[0.925,0.9315,0.934,0.9365,0.9429,0.9335],[0.9137,0.9282,0.9302,0.9315,0.9467,0.9295]],
  fL: [0.9251,0.9226,0.9201,0.9176,0.9151,0.9126,0.9101,0.9076,0.9051,0.9026,0.9001,0.8976,0.8951,0.8926,0.8901,0.8876,0.8851,0.8826,0.8801,0.8776,0.8751,0.8731],
  hL: [],
  fR: [0.9155], hR: [0.9391,0.9221],
};
const T83 = {
  L: [[0.9392,0],[0.9381,0.09],[0.9373,0.39],[0.9358,0.87],[0.9335,1],[0.9318,0.48],[0.9306,0.17],[0.9283,0.09],[0.9249,0.04],[0.9191,0.03],[0.91,0.01],[0.8733,0]],
  R: [[0.9467,0],[0.9444,0.04],[0.9427,0.17],[0.9412,0.61],[0.9398,1],[0.9381,0.7],[0.9358,0.35],[0.9341,0.09],[0.9318,0.02],[0.915,0.01],[0.8939,0.02],[0.8922,0.07],[0.8905,0.02],[0.8733,0]],
  box: [[0.9266,0.9312,0.9335,0.935,0.9392,0.934],[0.9341,0.9364,0.9384,0.9404,0.9467,0.9345]],
  fL: [0.9266,0.9245,0.9224,0.9203,0.9182,0.9161,0.914,0.9119,0.9098,0.9077,0.9056,0.9035,0.9014,0.9008],
  hL: [0.9412],
  fR: [0.922,0.9195,0.917,0.9145,0.912,0.9095,0.907,0.9045,0.902,0.8995,0.897,0.8945,0.892,0.8895,0.887,0.8845,0.882,0.8795,0.877,0.8744],
  hR: [0.9306,0.9283,0.9272,0.926],
};
const T88 = {
  L: [[0.9545,0],[0.9501,0.09],[0.9455,0.34],[0.9409,0.64],[0.9364,0.89],[0.9318,1],[0.9283,0.94],[0.9249,0.74],[0.9203,0.54],[0.9157,0.46],[0.91,0.49],[0.9042,0.54],[0.8985,0.54],[0.8928,0.44],[0.887,0.29],[0.8813,0.19],[0.8756,0.11],[0.8698,0.06],[0.8641,0.01],[0.8589,0]],
  R: [[0.9455,0],[0.9409,0.04],[0.9392,0.27],[0.9375,1],[0.9358,0.52],[0.9341,0.12],[0.9318,0.07],[0.9272,0.03],[0.9157,0.01],[0.8721,0]],
  box: [[0.8589,0.9008,0.9232,0.9329,0.9545,0.9174],[0.9283,0.9329,0.9354,0.9377,0.9455,0.9323]],
  fL: [], hL: [],
  fR: [0.9151,0.9123,0.91,0.9077,0.9054,0.9031,0.9008,0.8985,0.8962,0.8905,0.8888,0.8698,0.867],
  hR: [0.9255,0.9226,0.9209,0.9197],
};

const PANELS = [
  T1, T2, T3, T4, T5, T6,
  T7, T8, T9, T10, T14, T15,
  T16, T17, T18, T19, T20, T21,
  T26, T28, T29, T32, T33, T36,
  T38, T39, T40, T41, T42, T44,
  T46, T47, T49, T51, T54, T55,
  T56, T57, T59, T60, T62, T64,
  T66, T67, T68, T69, T70, T73,
  T75, T76, T77, T79, T80, T81,
  T83, T88,
];

const TITLES = [
  "T1*** ES: 0.66", "T2*** ES: 0.54", "T3*** ES: 0.6", "T4*** ES: 0.4", "T5*** ES: 0.26", "T6*** ES: 0.8",
  "T7*** ES: 0.66", "T8 ES: 0.51", "T9* ES: 0.62", "T10*** ES: 0.58", "T14*** ES: 0.69", "T15* ES: 0.79",
  "T16* ES: 0.74", "T17*** ES: 0.76", "T18*** ES: 0.68", "T19 ES: 0.54", "T20*** ES: 0.3", "T21** ES: 0.23",
  "T26*** ES: 0.98", "T28*** ES: 0.65", "T29 ES: 0.5", "T32*** ES: 0.79", "T33 ES: 0.34", "T36*** ES: 0.7",
  "T38* ES: 0.78", "T39* ES: 0.43", "T40*** ES: 0.12", "T41*** ES: 0.98", "T42** ES: 0.33", "T44 ES: 0.58",
  "T46*** ES: 0.042", "T47*** ES: 0.29", "T49*** ES: 0.19", "T51*** ES: 0.054", "T54** ES: 0.62", "T55*** ES: 0.34",
  "T56*** ES: 0.12", "T57*** ES: 0.7", "T59 ES: 0.49", "T60 ES: 0.44", "T62 ES: 0.44", "T64* ES: 0.88",
  "T66*** ES: 0.83", "T67*** ES: 0.85", "T68*** ES: 0.88", "T69*** ES: 0.11", "T70* ES: 0.67", "T73* ES: 0.45",
  "T75*** ES: 0.83", "T76*** ES: 0.8", "T77*** ES: 0.69", "T79*** ES: 0.4", "T80*** ES: 0.72", "T81** ES: 0.22",
  "T83*** ES: 0.84", "T88*** ES: 0.82",
];
const CIS = [
  "CI: 0.65 - 0.67", "CI: 0.53 - 0.54", "CI: 0.59 - 0.62", "CI: 0.39 - 0.41", "CI: 0.24 - 0.28", "CI: 0.79 - 0.81",
  "CI: 0.64 - 0.68", "CI: 0.49 - 0.54", "CI: 0.52 - 0.71", "CI: 0.55 - 0.6", "CI: 0.62 - 0.76", "CI: 0.64 - 0.94",
  "CI: 0.57 - 0.92", "CI: 0.71 - 0.81", "CI: 0.62 - 0.73", "CI: 0.49 - 0.6", "CI: 0.22 - 0.37", "CI: 0.1 - 0.36",
  "CI: 0.96 - 1", "CI: 0.58 - 0.71", "CI: 0.32 - 0.68", "CI: 0.73 - 0.84", "CI: 0.13 - 0.56", "CI: 0.64 - 0.75",
  "CI: 0.57 - 0.99", "CI: 0.37 - 0.49", "CI: 0.044 - 0.19", "CI: 0.96 - 1", "CI: 0.22 - 0.43", "CI: 0.41 - 0.75",
  "CI: 0.038 - 0.046", "CI: 0.26 - 0.32", "CI: 0.1 - 0.28", "CI: 0.043 - 0.066", "CI: 0.56 - 0.67", "CI: 0.28 - 0.4",
  "CI: -0.033 - 0.28", "CI: 0.68 - 0.72", "CI: 0.4 - 0.59", "CI: 0.26 - 0.61", "CI: 0.25 - 0.64", "CI: 0.68 - 1.1",
  "CI: 0.73 - 0.94", "CI: 0.84 - 0.87", "CI: 0.87 - 0.89", "CI: 0.062 - 0.16", "CI: 0.55 - 0.8", "CI: 0.42 - 0.49",
  "CI: 0.82 - 0.85", "CI: 0.73 - 0.87", "CI: 0.6 - 0.77", "CI: 0.36 - 0.43", "CI: 0.64 - 0.8", "CI: 0.1 - 0.34",
  "CI: 0.81 - 0.87", "CI: 0.77 - 0.86",
];

// y-axis ticks per row of panels
const ROW_TICKS = [
  [0.85, 0.9, 0.95], [0.85, 0.9, 0.95], [0.9, 0.92, 0.94], [0.88, 0.9, 0.92, 0.94], [0.88, 0.9, 0.92, 0.94],
  [0.85, 0.9], [0.86, 0.88, 0.9, 0.92, 0.94], [0.86, 0.88, 0.9, 0.92, 0.94], [0.9, 0.95], [0.9, 0.95],
];
// y-axis extent per row
const ROW_RANGE = [
  [0.815, 0.955], [0.815, 0.955], [0.882, 0.945], [0.874, 0.95], [0.868, 0.945],
  [0.848, 0.945], [0.855, 0.955], [0.855, 0.955], [0.852, 0.956], [0.852, 0.96],
];

// ===================== LAYOUT (reference pixels) =====================
const S = 2290 / 2425;
// [value1, pixel1, value2, pixel2] anchors of each row's y scale
const ROW_ANCHOR = [
  [0.95, 90.4, 0.85, 320.7], [0.95, 571.8, 0.85, 750.7], [0.94, 1003.5, 0.90, 1156], [0.94, 1426, 0.88, 1612.3],
  [0.94, 1815.9, 0.88, 2007.3], [0.90, 2331, 0.85, 2451.2], [0.94, 2660.6, 0.86, 2862.6], [0.94, 3068.3, 0.86, 3279.3],
  [0.95, 3461, 0.90, 3580.5], [0.95, 3887, 0.90, 4042.3],
];
const ROW_TITLE_Y1 = [437, 848.8, 1261.6, 1671, 2082.8, 2492.8, 2904.4, 3314.2, 3725.4, 4220.8];
const ROW_TITLE_Y2 = [492, 903.7, 1313.6, 1722, 2137.4, 2543, 2959.9, 3369.7, 3781.2, 4275.4];
const COL_X = [[136, 469], [560, 847], [939, 1225], [1316, 1602], [1693, 1981], [2071, 2403]];
const LAST_X = [[893, 1225], [1316, 1603]];
const XR = 1.13; // half x-extent in violin-width units
const OUT_X = 0.4; // outlier column offset

const FONT = '"Liberation Sans", Arial, Helvetica, sans-serif';
const TXT = "#474747";
const C = {
  lFill: "#67C4DB", lStroke: "#3E7A84", rFill: "#27AE96", rStroke: "#1E6B5C",
  lBox: "#4B7782", rBox: "#245E55", mean: "#CDE6D2", lOut: "#4B7D88", rOut: "#23705F", grid: "#EBEBEB",
};

function buildOption() {
  const grid: any[] = [];
  const xAxis: any[] = [];
  const yAxis: any[] = [];
  const series: any[] = [];
  const graphic: any[] = [];

  PANELS.forEach((P: any, i: number) => {
    const row = Math.floor(i / 6);
    const col = i % 6;
    const xr = row < 9 ? COL_X[col] : LAST_X[col];
    const a = ROW_ANCHOR[row];
    const px = (v: number) => a[1] + ((a[0] - v) * (a[3] - a[1])) / (a[0] - a[2]);
    const [ymin, ymax] = ROW_RANGE[row];
    grid.push({
      left: xr[0] * S,
      width: (xr[1] - xr[0]) * S,
      top: px(ymax) * S,
      height: (px(ymin) - px(ymax)) * S,
      containLabel: false,
    });
    xAxis.push({ type: "value", gridIndex: i, min: -XR, max: XR, show: false });
    yAxis.push({ type: "value", gridIndex: i, min: ymin, max: ymax, show: false, scale: true });
    const showLab = col === 0;

    // grid lines + tick labels
    series.push({
      type: "custom",
      xAxisIndex: i,
      yAxisIndex: i,
      z: 1,
      silent: true,
      data: ROW_TICKS[row].map((t) => [0, t]),
      renderItem: (params: any, api: any) => {
        const t = api.value(1);
        const p1 = api.coord([-XR, t]);
        const p2 = api.coord([XR, t]);
        const children: any[] = [
          { type: "line", shape: { x1: p1[0], y1: p1[1], x2: p2[0], y2: p2[1] }, style: { stroke: C.grid, lineWidth: 6 * S } },
        ];
        if (showLab) {
          children.push({
            type: "text",
            x: p1[0] - 8.5 * S,
            y: p1[1],
            style: {
              text: String(t),
              fill: TXT,
              font: `${40 * S}px ${FONT}`,
              align: "right",
              verticalAlign: "middle",
            },
          });
        }
        return { type: "group", children };
      },
    });

    // half violins
    series.push({
      type: "custom",
      xAxisIndex: i,
      yAxisIndex: i,
      z: 2,
      silent: true,
      data: [[-0.5, ymin], [0.5, ymin]],
      renderItem: (params: any, api: any) => {
        const side = params.dataIndex;
        const prof = side === 0 ? P.L : P.R;
        const sg = side === 0 ? -1 : 1;
        const pts = prof.map((d: number[]) => api.coord([sg * d[1], d[0]]));
        return {
          type: "polygon",
          shape: { points: pts, smooth: 0.3 },
          style: {
            fill: side === 0 ? C.lFill : C.rFill,
            stroke: side === 0 ? C.lStroke : C.rStroke,
            lineWidth: 2.2 * S,
            lineJoin: "round",
          },
        };
      },
    });

    // inner boxes
    series.push({
      type: "custom",
      xAxisIndex: i,
      yAxisIndex: i,
      z: 3,
      silent: true,
      data: [[-0.05, ymin], [0.05, ymin]],
      renderItem: (params: any, api: any) => {
        const side = params.dataIndex;
        const b = P.box[side];
        const xa = side === 0 ? -0.09 : -0.01;
        const xb = side === 0 ? 0 : 0.095;
        const xw = side === 0 ? -0.014 : 0.014;
        const col = side === 0 ? C.lBox : C.rBox;
        const tl = api.coord([xa, b[3]]);
        const br = api.coord([xb, b[1]]);
        const m1 = api.coord([xa, b[2]]);
        const m2 = api.coord([xb, b[2]]);
        const n1 = api.coord([xa, b[5]]);
        const n2 = api.coord([xb, b[5]]);
        const w1 = api.coord([xw, b[4]]);
        const w2 = api.coord([xw, b[0]]);
        return {
          type: "group",
          children: [
            { type: "line", shape: { x1: w1[0], y1: w1[1], x2: w2[0], y2: w2[1] }, style: { stroke: col, lineWidth: 2 * S } },
            {
              type: "rect",
              shape: { x: tl[0], y: tl[1], width: br[0] - tl[0], height: br[1] - tl[1] },
              style: { fill: "rgba(0,0,0,0)", stroke: col, lineWidth: 2 * S },
            },
            { type: "line", shape: { x1: m1[0], y1: m1[1], x2: m2[0], y2: m2[1] }, style: { stroke: col, lineWidth: 2 * S } },
            {
              type: "line",
              shape: { x1: n1[0], y1: n1[1], x2: n2[0], y2: n2[1] },
              style: { stroke: C.mean, lineWidth: 2 * S, lineDash: [4 * S, 3 * S] },
            },
          ],
        };
      },
    });

    // outliers
    const addOut = (vals: number[], x: number, color: string, filled: boolean) => {
      if (!vals || !vals.length) return;
      series.push({
        type: "scatter",
        xAxisIndex: i,
        yAxisIndex: i,
        z: 4,
        silent: true,
        symbol: "diamond",
        symbolSize: 14 * S,
        data: vals.map((v) => [x, v]),
        itemStyle: filled
          ? { color, borderColor: color, borderWidth: 0.8 }
          : { color: "rgba(255,255,255,0)", borderColor: color, borderWidth: 1.5 * S },
      });
    };
    addOut(P.hL, -OUT_X, C.lOut, false);
    addOut(P.fL, -OUT_X, C.lOut, true);
    addOut(P.hR, OUT_X, C.rOut, false);
    addOut(P.fR, OUT_X, C.rOut, true);

    // panel caption
    const cx = ((xr[0] + xr[1]) / 2) * S;
    graphic.push({
      type: "text",
      x: cx,
      y: ROW_TITLE_Y1[row] * S,
      silent: true,
      style: { text: TITLES[i], fill: TXT, font: `${41.5 * S}px ${FONT}`, align: "center", verticalAlign: "middle" },
    });
    graphic.push({
      type: "text",
      x: cx,
      y: ROW_TITLE_Y2[row] * S,
      silent: true,
      style: { text: CIS[i], fill: TXT, font: `${41.5 * S}px ${FONT}`, align: "center", verticalAlign: "middle" },
    });
  });

  return {
    animation: false,
    backgroundColor: "#ffffff",
    grid,
    xAxis,
    yAxis,
    series,
    graphic,
  };
}

export default function App() {
  const ref = useRef<HTMLDivElement>(null);
  useEffect(() => {
    if (!ref.current) return;
    const chart = echarts.init(ref.current, undefined, { renderer: "svg" });
    chart.setOption(buildOption() as any);
    return () => chart.dispose();
  }, []);
  return (
    <div
      ref={ref}
      style={{ position: "absolute", left: 0, top: 0, width: 2290, height: 4096, background: "#fff" }}
    />
  );
}
